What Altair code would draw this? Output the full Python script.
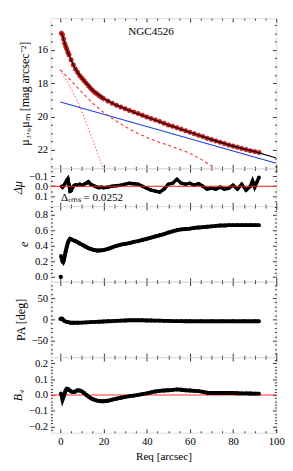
import altair as alt
import pandas as pd

FONT = "Liberation Serif"

# ---------------- data ----------------
NAME = "NGC4526"
RMS_LABEL = "Δᵣₘₛ = 0.0252"

R_PROF = [0.5, 1, 1.5, 2, 2.5, 3, 3.5, 4,
          5, 6, 7, 8, 9, 10, 11, 12, 13, 14, 15, 16, 17, 18, 19, 20,
          22, 24, 26, 28, 30, 32, 34, 36, 38, 40, 42, 44, 46, 48, 50,
          52, 54, 56, 58, 60, 62, 64, 66, 68, 70, 72, 74, 76, 78, 80,
          82, 84, 86, 88, 90, 92]
MU_PROF = [15.0, 15.1, 15.35, 15.6, 15.8, 15.95, 16.15, 16.3,
           16.6, 16.9, 17.15, 17.35, 17.55, 17.7, 17.85, 18.0, 18.15, 18.3, 18.43, 18.55, 18.65, 18.75, 18.84, 18.92,
           19.07, 19.2, 19.32, 19.43, 19.53, 19.63, 19.73, 19.82, 19.92, 20.02, 20.12, 20.2, 20.3, 20.4, 20.5,
           20.58, 20.67, 20.76, 20.85, 20.94, 21.03, 21.12, 21.2, 21.3, 21.38, 21.46, 21.54, 21.62, 21.7, 21.77,
           21.84, 21.91, 21.98, 22.05, 22.1, 22.15]

R_MODEL = [0.5, 1, 2, 3, 4, 6, 8, 10, 12, 15, 20, 25, 30, 35, 40, 50, 60, 70, 80, 90, 100]
MU_MODEL = [15.0, 15.1, 15.6, 15.95, 16.3, 16.9, 17.35, 17.7, 18.0, 18.43, 18.92, 19.26, 19.53, 19.78, 20.02,
            20.5, 20.94, 21.38, 21.77, 22.1, 22.48]

R_DISK = [0, 100]
MU_DISK = [19.13, 22.8]

R_BULGE = [0, 2, 5, 10, 15, 20, 25, 30, 35, 40, 45, 50, 55, 60, 65, 70, 75]
MU_BULGE = [17.2, 17.45, 17.85, 18.55, 19.2, 19.75, 20.2, 20.6, 20.95, 21.25, 21.5, 21.72, 21.95, 22.2, 22.55, 22.95, 23.35]

R_INNER = [0, 2, 4, 6, 8, 10, 12, 14, 16, 18, 20, 22]
MU_INNER = [17.2, 17.65, 18.1, 18.6, 19.1, 19.7, 20.4, 21.05, 21.75, 22.45, 23.2, 24.0]

R_RES = [0.5, 1, 1.5, 2, 2.5, 3, 3.5, 4, 4.5, 5, 5.5, 6, 7, 8, 9, 10, 11, 12, 13, 14, 15, 16, 17, 18, 19, 20,
         22, 24, 26, 28, 30, 32, 34, 36, 38, 40, 42, 44, 46, 48, 50, 52, 54, 56, 58, 60, 62, 64, 66, 68, 70,
         72, 74, 76, 78, 80, 82, 84, 86, 88, 89, 90, 91, 92]
D_MU = [0.0, 0.01, -0.005, -0.02, -0.04, -0.06, -0.075, -0.02, 0.05, 0.045, 0.02, 0.0, -0.015, -0.01, -0.02,
        -0.01, -0.02, -0.03, -0.045, -0.02, -0.01, 0.0, 0.01, 0.015, 0.01, 0.015,
        0.01, 0.0, -0.005, -0.01, -0.02, -0.03, -0.025, -0.02, 0.0, 0.02, 0.04, 0.05, 0.06, 0.03, -0.02, -0.03,
        -0.07, -0.03, -0.02, -0.03, -0.01, -0.025, 0.0, 0.03, 0.02,
        0.03, 0.01, 0.03, 0.02, -0.01, 0.03, -0.02, 0.04, 0.0, -0.055, 0.01, -0.04, -0.09]

R_ELL = [0.3, 0.7, 1.0, 1.3, 1.7, 2.0, 2.5, 3.0, 3.5, 4.0, 4.5, 5, 6, 7, 8, 9, 10, 11, 12, 13, 14, 15, 16, 17,
         18, 19, 20, 22, 24, 26, 28, 30, 32, 34, 36, 38, 40, 42, 44, 46, 48, 50, 52, 54, 56, 58, 60, 62, 64,
         66, 68, 70, 72, 74, 76, 78, 80, 82, 84, 86, 88, 90, 92]
ELL = [0.27, 0.24, 0.2, 0.19, 0.22, 0.27, 0.33, 0.39, 0.44, 0.47, 0.49, 0.485, 0.47, 0.46, 0.445, 0.43, 0.415,
       0.4, 0.385, 0.37, 0.36, 0.35, 0.345, 0.34, 0.34, 0.342, 0.345, 0.36, 0.38, 0.4, 0.415, 0.425, 0.435,
       0.45, 0.46, 0.475, 0.49, 0.505, 0.52, 0.535, 0.55, 0.57, 0.585, 0.6, 0.61, 0.615, 0.62, 0.63, 0.635,
       0.64, 0.645, 0.65, 0.655, 0.66, 0.66, 0.665, 0.665, 0.665, 0.665, 0.665, 0.665, 0.665, 0.665]
R_ELL0 = [0.2]
ELL0 = [0.0]

R_PA = [0, 0.5, 1, 1.5, 2, 3, 4, 5, 6, 8, 10, 12, 14, 16, 18, 20, 22, 24, 26, 28, 30, 32, 34, 36, 38, 40,
        42, 44, 46, 48, 50, 52, 54, 56, 58, 60, 65, 70, 75, 80, 85, 90, 92]
PA = [1, 2, 1, -2, -4, -6, -7, -8, -8, -8, -7.5, -7, -6.5, -6, -5.5, -5, -4.5, -4, -3.5, -3, -2.5, -2, -2,
      -2, -2, -2.5, -2.5, -3, -3, -3.5, -3.5, -4, -4, -4, -4.5, -4.5, -4.5, -4.5, -4.5, -4.5, -4.5, -4.5, -4.5]

R_B4 = [0.3, 0.7, 1.0, 1.5, 2, 2.5, 3, 3.5, 4, 5, 6, 7, 8, 9, 10, 11, 12, 13, 14, 15, 16, 17, 18, 19, 20,
        22, 24, 26, 28, 30, 32, 34, 36, 38, 40, 42, 44, 46, 48, 50, 52, 54, 56, 58, 60, 62, 64, 66, 68, 70,
        72, 74, 76, 78, 80, 82, 84, 86, 88, 90, 92]
B4 = [0.01, -0.01, -0.03, -0.01, 0.01, 0.03, 0.04, 0.038, 0.032, 0.022, 0.018, 0.022, 0.03, 0.028, 0.022,
      0.012, 0.0, -0.01, -0.02, -0.027, -0.032, -0.036, -0.038, -0.04, -0.04,
      -0.037, -0.03, -0.024, -0.018, -0.012, -0.008, -0.004, 0.0, 0.005, 0.01, 0.016, 0.022, 0.026, 0.028,
      0.03, 0.032, 0.035, 0.033, 0.03, 0.028, 0.026, 0.024, 0.02, 0.014, 0.012,
      0.012, 0.012, 0.012, 0.012, 0.012, 0.011, 0.01, 0.01, 0.009, 0.008, 0.008]

# tick positions
X_TICKS = list(range(0, 101, 5))
MU_TICKS = [14.5 + 0.5 * i for i in range(18)]
DMU_TICKS = [-0.15, -0.1, -0.05, 0.0, 0.05, 0.1, 0.15]
E_TICKS = [round(0.05 * i, 2) for i in range(19)]
PA_TICKS = list(range(-80, 81, 10))
B4_TICKS = [round(-0.22 + 0.02 * i, 2) for i in range(23)]

# ---------------- helpers ----------------
W = 233
xs = alt.Scale(domain=[-4.5, 100], nice=False, zero=False)


def is_major(step):
    return f"abs(datum.value/{step} - round(datum.value/{step})) < 1e-6"


def make_axis(orient, values, step, labels=False, fmt=".0f", title=None, italic=False, tpad=4, tsize=12.5):
    test = is_major(step)
    props = dict(orient=orient, values=values, domain=False, grid=False, ticks=True,
                 tickColor="black", tickWidth=0.8,
                 tickSize={"expr": f"({test}) ? -4 : -2"},
                 labels=labels, title=title)
    if labels:
        props.update(labelExpr=f"({test}) ? format(datum.value, '{fmt}') : ''",
                     labelFont=FONT, labelFontSize=11, labelColor="black",
                     labelPadding=7, labelOverlap=False, labelBound=False, labelFlush=False)
    if title:
        props.update(titleFont=FONT, titleFontSize=tsize, titleFontWeight="normal",
                     titleColor="black", titlePadding=tpad,
                     titleFontStyle="italic" if italic else "normal")
    return alt.Axis(**props)


def frame_layers(df, ys, yticks, ystep, yfmt, ytitle, italic=False, xlabels=False, xtitle=None, tpad=4):
    base_axes = alt.Chart(df).mark_circle(opacity=0, size=1, clip=True).encode(
        x=alt.X("r:Q", scale=xs, axis=make_axis("bottom", X_TICKS, 20, labels=xlabels, title=xtitle,
                                               tpad=3, tsize=11.5)),
        y=alt.Y("v:Q", scale=ys, axis=make_axis("left", yticks, ystep, labels=True, fmt=yfmt,
                                               title=ytitle, italic=italic, tpad=tpad)),
    )
    mirror_axes = alt.Chart(df).mark_circle(opacity=0, size=1, clip=True).encode(
        x=alt.X("r:Q", scale=xs, axis=make_axis("top", X_TICKS, 20)),
        y=alt.Y("v:Q", scale=ys, axis=make_axis("right", yticks, ystep)),
    )
    return [base_axes, mirror_axes]


def enc(ch, ys):
    return ch.encode(x=alt.X("r:Q", scale=xs, axis=None), y=alt.Y("v:Q", scale=ys, axis=None))


# ---------------- panel 1: surface brightness ----------------
ys1 = alt.Scale(domain=[14.1, 23.1], reverse=True, nice=False, zero=False)
df_prof = pd.DataFrame({"r": R_PROF, "v": MU_PROF})
df_model = pd.DataFrame({"r": R_MODEL, "v": MU_MODEL})
df_disk = pd.DataFrame({"r": R_DISK, "v": MU_DISK})
df_bulge = pd.DataFrame({"r": R_BULGE, "v": MU_BULGE})
df_inner = pd.DataFrame({"r": R_INNER, "v": MU_INNER})
df_name = pd.DataFrame({"r": [42], "v": [14.95], "t": [NAME]})

p1 = alt.layer(
    *frame_layers(df_prof, ys1, MU_TICKS, 2, ".0f", "μ₃.₆μₘ [mag arcsec⁻²]", tpad=6),
    enc(alt.Chart(df_disk).mark_line(color="#1f3fe0", strokeWidth=1.1, clip=True), ys1),
    enc(alt.Chart(df_bulge).mark_line(color="#ff2020", strokeWidth=1.1, strokeDash=[3, 3], clip=True), ys1),
    enc(alt.Chart(df_inner).mark_line(color="#ff3030", strokeWidth=1.1, strokeDash=[1, 2.5], clip=True), ys1),
    enc(alt.Chart(df_prof).mark_circle(size=22, color="#e3161b", stroke="#8a0a0a", strokeWidth=0.5,
                                       opacity=1, clip=True), ys1),
    enc(alt.Chart(df_model).mark_line(color="black", strokeWidth=1.2, clip=True), ys1),
    alt.Chart(df_name).mark_text(font=FONT, fontSize=11.5, align="center", baseline="middle", color="black").encode(
        x=alt.X("r:Q", scale=xs, axis=None), y=alt.Y("v:Q", scale=ys1, axis=None), text="t:N"),
).resolve_axis(x="independent", y="independent").properties(width=W, height=155)

# ---------------- panel 2: residuals ----------------
ys2 = alt.Scale(domain=[-0.18, 0.2], reverse=True, nice=False, zero=False)
df_res = pd.DataFrame({"r": R_RES, "v": D_MU})
df_rms = pd.DataFrame({"r": [0.3], "v": [0.118], "t": [RMS_LABEL]})
p2 = alt.layer(
    *frame_layers(df_res, ys2, DMU_TICKS, 0.1, ".1f", "Δμ", italic=True),
    enc(alt.Chart(df_res).mark_line(color="black", strokeWidth=3.5, clip=True), ys2),
    enc(alt.Chart(df_res).mark_circle(size=14, color="black", opacity=1, clip=True), ys2),
    alt.Chart(pd.DataFrame({"v": [0.0]})).mark_rule(color="#ff1a1a", strokeWidth=1.1).encode(
        y=alt.Y("v:Q", scale=ys2, axis=None)),
    alt.Chart(df_rms).mark_text(font=FONT, fontSize=11.5, align="left", baseline="middle", color="black").encode(
        x=alt.X("r:Q", scale=xs, axis=None), y=alt.Y("v:Q", scale=ys2, axis=None), text="t:N"),
).resolve_axis(x="independent", y="independent").properties(width=W, height=39)

# ---------------- panel 3: ellipticity ----------------
ys3 = alt.Scale(domain=[-0.06, 0.91], nice=False, zero=False)
df_ell = pd.DataFrame({"r": R_ELL, "v": ELL})
df_ell0 = pd.DataFrame({"r": R_ELL0, "v": ELL0})
p3 = alt.layer(
    *frame_layers(df_ell, ys3, E_TICKS, 0.2, ".1f", "e", italic=True),
    enc(alt.Chart(df_ell).mark_line(color="black", strokeWidth=4, clip=True), ys3),
    enc(alt.Chart(df_ell).mark_circle(size=16, color="black", opacity=1, clip=True), ys3),
    enc(alt.Chart(df_ell0).mark_circle(size=20, color="black", opacity=1, clip=True), ys3),
).resolve_axis(x="independent", y="independent").properties(width=W, height=78)

# ---------------- panel 4: position angle ----------------
ys4 = alt.Scale(domain=[-89, 89], nice=False, zero=False)
df_pa = pd.DataFrame({"r": R_PA, "v": PA})
p4 = alt.layer(
    *frame_layers(df_pa, ys4, PA_TICKS, 50, ".0f", "PA [deg]"),
    enc(alt.Chart(df_pa).mark_line(color="black", strokeWidth=4, clip=True), ys4),
    enc(alt.Chart(df_pa).mark_circle(size=16, color="black", opacity=1, clip=True), ys4),
).resolve_axis(x="independent", y="independent").properties(width=W, height=78)

# ---------------- panel 5: B4 ----------------
ys5 = alt.Scale(domain=[-0.24, 0.24], nice=False, zero=False)
df_b4 = pd.DataFrame({"r": R_B4, "v": B4})
p5 = alt.layer(
    *frame_layers(df_b4, ys5, B4_TICKS, 0.1, ".1f", "B₄", italic=True, xlabels=True, xtitle="Req [arcsec]"),
    alt.Chart(pd.DataFrame({"v": [0.0]})).mark_rule(color="#ff3030", strokeWidth=1.1).encode(
        y=alt.Y("v:Q", scale=ys5, axis=None)),
    enc(alt.Chart(df_b4).mark_line(color="black", strokeWidth=4, clip=True), ys5),
    enc(alt.Chart(df_b4).mark_circle(size=16, color="black", opacity=1, clip=True), ys5),
).resolve_axis(x="independent", y="independent").properties(width=W, height=78)

chart = alt.vconcat(p1, p2, p3, p4, p5, spacing=0, bounds="flush").properties(
    padding={"left": 3, "top": 2, "right": 0, "bottom": 0}
).configure_view(stroke="black", strokeWidth=1).configure_axis(
    titleFontWeight="normal", titleFont=FONT
).configure(background="white")

chart.save("out.html", embed_options={"renderer": "svg", "actions": False})
